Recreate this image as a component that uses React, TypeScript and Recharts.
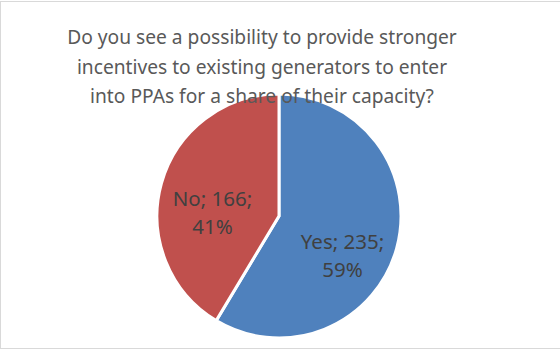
import { PieChart, Pie, Cell } from "recharts"

const answers = ["Yes", "No"]
const counts = [235, 166]
const percents = ["59%", "41%"]
const sliceColors = ["#4F81BD", "#C0504D"]

const titleLines = [
  "Do you see a possibility to provide stronger",
  "incentives to existing generators to enter",
  "into PPAs for a share of their capacity?",
]

// small nudges so labels land where Excel's best-fit put them
const labelNudge = [
  [-7, 19],
  [4, 16],
]

const data = answers.map((name, i) => ({ name, value: counts[i], pct: percents[i] }))

const FONT = "'Noto Sans', sans-serif"
const RADIAN = Math.PI / 180

function renderLabel(props: any) {
  const { cx, cy, midAngle, outerRadius, index } = props
  const r = outerRadius * 0.6
  const x = cx + r * Math.cos(-midAngle * RADIAN) + labelNudge[index][0]
  const y = cy + r * Math.sin(-midAngle * RADIAN) + labelNudge[index][1]
  const d = data[index]
  return (
    <text x={x} y={y} textAnchor="middle" fill="#404040" fontSize={20.5} fontFamily={FONT}>
      <tspan x={x} dy={-6}>{`${d.name}; ${d.value};`}</tspan>
      <tspan x={x} dy={28}>{d.pct}</tspan>
    </text>
  )
}

export default function App() {
  return (
    <div style={{ position: "absolute", left: 0, top: 0, width: 560, height: 353, background: "#fff" }}>
      <div
        style={{
          position: "absolute",
          left: 0,
          top: 1,
          width: 562,
          height: 348,
          border: "1px solid #D9D9D9",
          boxSizing: "border-box",
        }}
      />
      <PieChart
        width={560}
        height={353}
        margin={{ top: 0, right: 0, bottom: 0, left: 0 }}
        style={{ position: "absolute", left: 0, top: 0 }}
      >
        <Pie
          data={data}
          dataKey="value"
          nameKey="name"
          cx={279}
          cy={216}
          outerRadius={122}
          startAngle={90}
          endAngle={-270}
          stroke="#fff"
          strokeWidth={3}
          label={renderLabel}
          labelLine={false}
          isAnimationActive={false}
        >
          {data.map((d, i) => (
            <Cell key={d.name} fill={sliceColors[i]} />
          ))}
        </Pie>
      </PieChart>
      <div
        style={{
          position: "absolute",
          left: 0,
          top: 22,
          width: 524,
          textAlign: "center",
          fontFamily: FONT,
          fontSize: 19.2,
          lineHeight: "29.5px",
          color: "#595959",
          pointerEvents: "none",
        }}
      >
        {titleLines.map((t) => (
          <div key={t}>{t}</div>
        ))}
      </div>
    </div>
  )
}
